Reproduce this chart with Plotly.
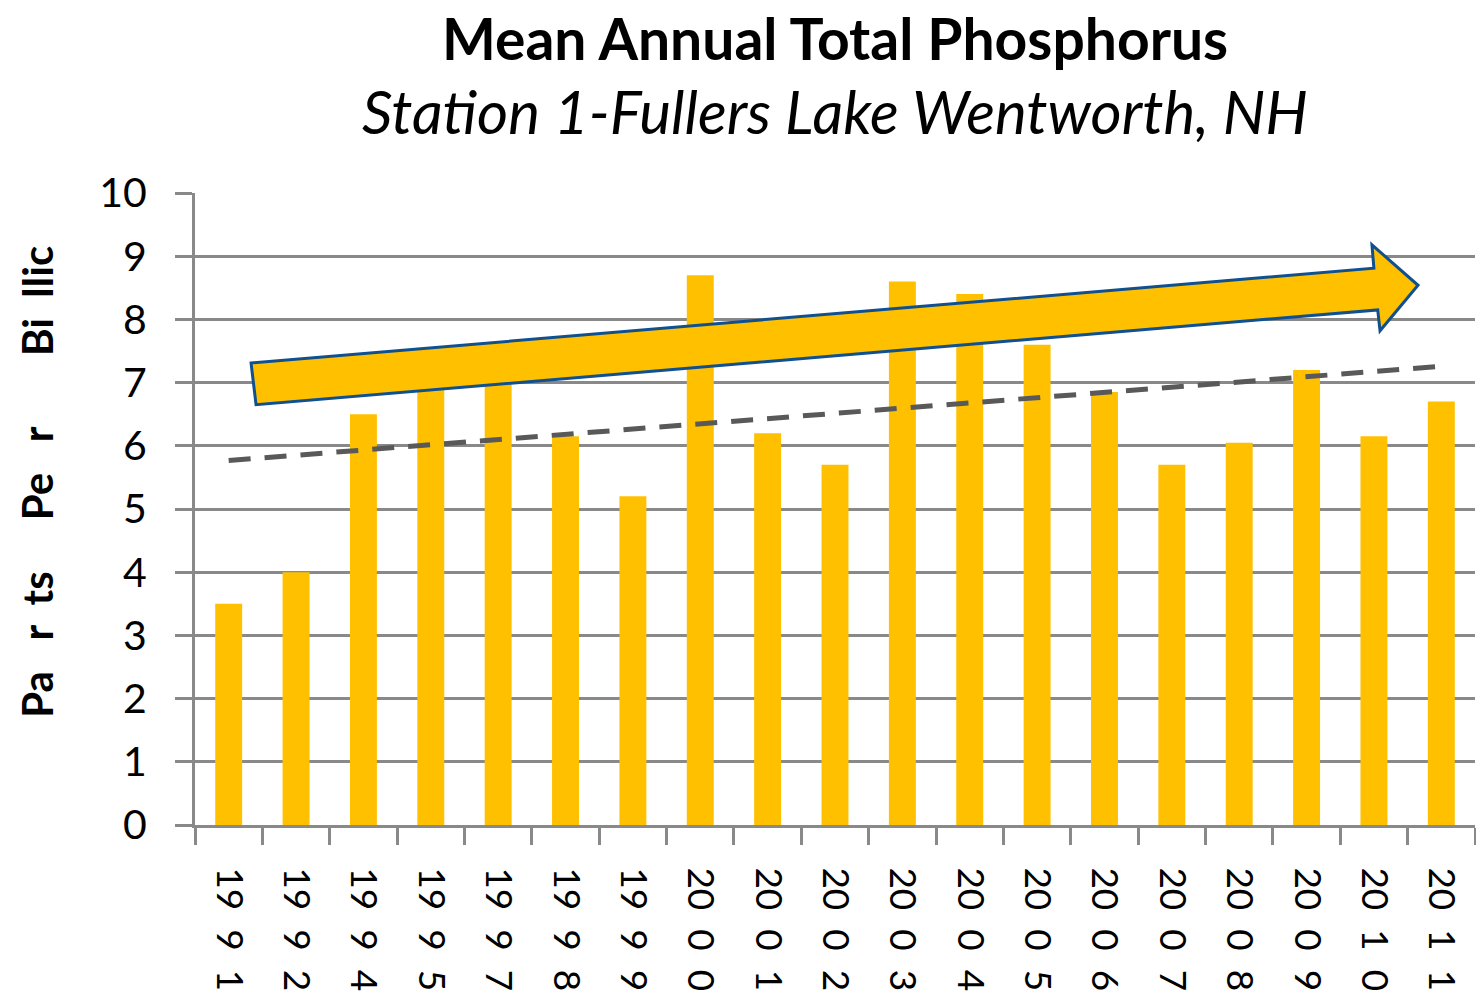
import numpy as np
import plotly.graph_objects as go

# values (parts per billion)
years = ['1991', '1992', '1994', '1995', '1997', '1998', '1999', '2000', '2001', '2002',
         '2003', '2004', '2005', '2006', '2007', '2008', '2009', '2010', '2011']
phosphorus = [3.5, 4.0, 6.5, 7.55, 7.0, 6.15, 5.2, 8.7, 6.2, 5.7,
              8.6, 8.4, 7.6, 6.85, 5.7, 6.05, 7.2, 6.15, 6.7]
y_ticks = [0, 1, 2, 3, 4, 5, 6, 7, 8, 9, 10]

# linear trend, same as the spreadsheet's trendline
idx = np.arange(len(years))
slope, intercept = np.polyfit(idx, phosphorus, 1)
trend = intercept + slope * idx

NB = '\u00a0'
def spaced(y):
    # the original labels wrap with odd spacing: "19  9  1"
    return y[:2] + NB * 2 + y[2] + NB * 2 + y[3]

# axis title as it shows in the original (clipped, loosely spaced)
y_title = ('Pa' + NB * 3 + 'r' + NB * 2 + 'ts' + NB * 5 + 'Pe' + NB * 3 + 'r'
           + NB * 7 + 'Bi' + NB * 2 + 'llic')

font = 'Lato'
grid = '#898989'

fig = go.Figure()
fig.add_trace(go.Bar(x=years, y=phosphorus, marker_color='#FFC000',
                     marker_line_width=0, showlegend=False))
fig.add_trace(go.Scatter(x=years, y=trend, mode='lines', showlegend=False,
                         line=dict(color='#595959', width=5, dash='22px,14px')))

# block arrow drawn over the chart (paper coordinates)
arrow = [(0.0438, 0.731), (0.921, 0.881), (0.9195, 0.918), (0.9555, 0.854),
         (0.9258, 0.782), (0.924, 0.815), (0.0477, 0.665)]
path = 'M ' + ' L '.join(f'{x},{y}' for x, y in arrow) + ' Z'
fig.add_shape(type='path', path=path, xref='paper', yref='paper',
              fillcolor='#FFC000', line=dict(color='#10508F', width=3), layer='above')

fig.add_annotation(text='<b>Mean Annual Total Phosphorus</b>', xref='paper', yref='paper',
                   x=0.5, y=1.246, showarrow=False, yanchor='middle',
                   font=dict(family=font, size=57, color='black'))
fig.add_annotation(text='<i>Station 1-Fullers Lake Wentworth, NH</i>', xref='paper', yref='paper',
                   x=0.5, y=1.13, showarrow=False, yanchor='middle',
                   font=dict(family=font, size=60, color='black'))
fig.add_annotation(text='<b>' + y_title + '</b>', xref='paper', yref='paper',
                   x=-0.1234, y=0.543, showarrow=False, textangle=-90,
                   xanchor='center', yanchor='middle',
                   font=dict(family=font, size=42, color='black'))

# the page body has an 8px margin, so the figure is a little smaller than the window
fig.update_layout(
    width=1476, height=987, plot_bgcolor='white', paper_bgcolor='white',
    margin=dict(l=187, r=9, t=185, b=170, autoexpand=False), bargap=0.6,
    font=dict(family=font, color='black'),
    xaxis=dict(type='category', tickvals=years, ticktext=[spaced(y) for y in years],
               tickangle=90, tickson='boundaries', ticks='outside', ticklen=17,
               tickwidth=3, tickcolor=grid, showline=True, linecolor=grid, linewidth=3,
               showgrid=False, tickfont=dict(size=37), ticklabelstandoff=32,
               automargin=False),
    yaxis=dict(range=[0, 10], tickvals=y_ticks, ticks='outside', ticklen=17, tickwidth=3,
               tickcolor=grid, showline=True, linecolor=grid, linewidth=3,
               gridcolor=grid, gridwidth=2.5, zeroline=False,
               tickfont=dict(size=41), ticklabelstandoff=20, automargin=False),
)

fig.write_html('out.html')
